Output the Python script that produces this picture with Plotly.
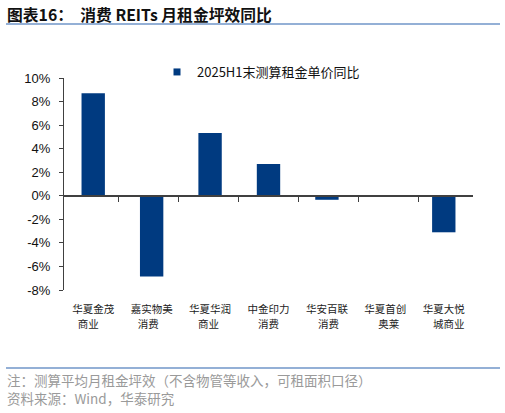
import plotly.graph_objects as go

categories = ["华夏金茂", "嘉实物美", "华夏华润", "中金印力", "华安百联", "华夏首创", "华夏大悦"]
categories_line2 = ["商业", "消费", "商业", "消费", "消费", "奥莱", "城商业"]
values = [8.7, -6.85, 5.33, 2.7, -0.34, 0.0, -3.1]
series_name = "2025H1末测算租金单价同比"
tick_vals = [10, 8, 6, 4, 2, 0, -2, -4, -6, -8]
tick_text = ["10%", "8%", "6%", "4%", "2%", "0%", "-2%", "-4%", "-6%", "-8%"]

BAR = "#003a80"
CJK = "Noto Sans CJK SC"
LAT = "Liberation Sans, Arial"

W, H = 505, 413
ml, mr, mt, mb = 64, 32, 78, 123
y_min, y_max = -8, 10
pw = W - ml - mr
ph = H - mt - mb


def px_x(px):
    return (px - ml) / pw


def px_y(py):
    return 1 - (py - mt) / ph


fig = go.Figure()
fig.add_trace(go.Bar(x=categories, y=values, marker=dict(color=BAR, line=dict(width=0)),
                     width=0.4, showlegend=False, xaxis="x", yaxis="y"))
# legend entry with small square marker
fig.add_trace(go.Scatter(x=[None], y=[None], mode="markers", name=series_name,
                         marker=dict(symbol="square", size=7, color=BAR), showlegend=True,
                         xaxis="x", yaxis="y"))
# invisible traces to drive the zero-line axis and the second label row
fig.add_trace(go.Scatter(x=categories, y=[0] * len(categories), mode="markers",
                         marker=dict(opacity=0), showlegend=False, hoverinfo="skip",
                         xaxis="x2", yaxis="y"))
fig.add_trace(go.Scatter(x=categories, y=[0] * len(categories), mode="markers",
                         marker=dict(opacity=0), showlegend=False, hoverinfo="skip",
                         xaxis="x3", yaxis="y"))

zero_pos = (0 - y_min) / (y_max - y_min)
lab_font = dict(family=CJK, size=10.5, color="#222")

fig.update_layout(
    width=W, height=H,
    margin=dict(l=ml, r=mr, t=mt, b=mb, autoexpand=False),
    paper_bgcolor="white", plot_bgcolor="white",
    xaxis=dict(type="category", categoryorder="array", categoryarray=categories,
               showline=False, ticks="", showgrid=False, zeroline=False,
               tickfont=lab_font, ticklabelstandoff=11, tickangle=0),
    xaxis2=dict(type="category", categoryorder="array", categoryarray=categories,
                overlaying="x", anchor="free", position=zero_pos,
                showline=True, linecolor="#404040", linewidth=1.5,
                ticks="outside", tickson="boundaries", ticklen=5, tickwidth=1.2, tickcolor="#404040",
                showticklabels=False, showgrid=False, zeroline=False),
    xaxis3=dict(type="category", categoryorder="array", categoryarray=categories,
                overlaying="x", anchor="free", position=0, side="bottom",
                tickmode="array", tickvals=categories, ticktext=categories_line2,
                showline=False, ticks="", showgrid=False, zeroline=False,
                tickfont=lab_font, ticklabelstandoff=26, tickangle=0),
    yaxis=dict(range=[y_min, y_max], tickvals=tick_vals, ticktext=tick_text,
               showline=True, linecolor="#404040", linewidth=1.2,
               ticks="outside", ticklen=4, tickcolor="#404040",
               showgrid=False, zeroline=False,
               tickfont=dict(family=LAT, size=13, color="#111"), ticklabelstandoff=6),
    legend=dict(x=px_x(157), y=px_y(72), xanchor="left", yanchor="middle", orientation="h",
                font=dict(family=CJK, size=13, color="#111"), bgcolor="rgba(0,0,0,0)",
                itemwidth=30),
    showlegend=True,
)

# Title and rules
fig.add_annotation(xref="paper", yref="paper", x=px_x(5), y=px_y(14),
                   xanchor="left", yanchor="middle", showarrow=False,
                   text="<b>图表16：  消费 REITs 月租金坪效同比</b>",
                   font=dict(family=CJK, size=15.8, color="#111"))
fig.add_shape(type="line", xref="paper", yref="paper", x0=px_x(6), x1=px_x(500), y0=px_y(24), y1=px_y(24),
              line=dict(color="#7096c8", width=1.5))
fig.add_shape(type="line", xref="paper", yref="paper", x0=px_x(6), x1=px_x(500), y0=px_y(368), y1=px_y(368),
              line=dict(color="#7096c8", width=1.5))
fig.add_annotation(xref="paper", yref="paper", x=px_x(5), y=px_y(380), xanchor="left", yanchor="middle",
                   showarrow=False, text="注：测算平均月租金坪效（不含物管等收入，可租面积口径）",
                   font=dict(family=CJK, size=13.5, color="#9a9a9a"))
fig.add_annotation(xref="paper", yref="paper", x=px_x(5), y=px_y(398), xanchor="left", yanchor="middle",
                   showarrow=False, text="资料来源：Wind，华泰研究",
                   font=dict(family=CJK, size=13.5, color="#9a9a9a"))

fig.write_html("out.html", config={"displayModeBar": False},
               post_script="document.body.style.margin='0';document.body.style.padding='0';")
